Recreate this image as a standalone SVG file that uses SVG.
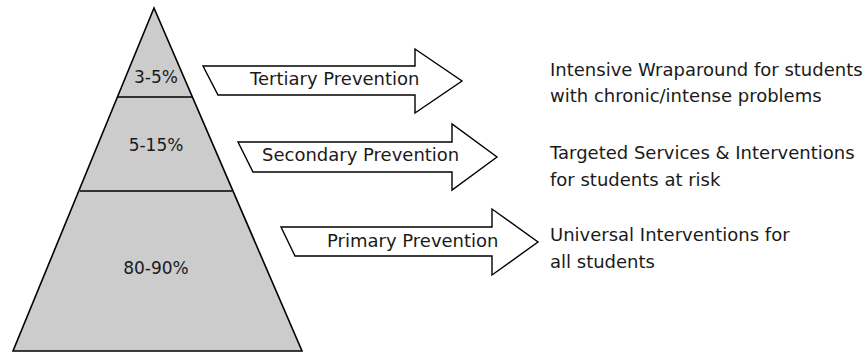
<svg xmlns="http://www.w3.org/2000/svg" width="868" height="353" viewBox="0 0 868 353">
  <style>
    .tier { fill: #cccccc; stroke: #000; stroke-width: 1.6; stroke-linejoin: miter; }
    .divider { stroke: #000; stroke-width: 1.6; fill: none; }
    .arrow { fill: #fff; stroke: #000; stroke-width: 1.4; stroke-linejoin: miter; }
    text { font-family: "DejaVu Sans", "Liberation Sans", sans-serif; fill: #1a1a1a; }
    .pct { font-size: 17px; text-anchor: middle; }
    .lbl { font-size: 18px; }
    .desc { font-size: 18px; }
  </style>

  <!-- pyramid of tiers -->
  <g id="pyramid">
    <polygon class="tier" points="154,8 13,351 302,351"/>
    <line class="divider" x1="117" y1="97" x2="192" y2="97"/>
    <line class="divider" x1="80" y1="191" x2="232" y2="191"/>
  </g>
  <g id="tier-top">
    <text class="pct" x="156" y="83">3-5%</text>
  </g>
  <g id="tier-middle">
    <text class="pct" x="156" y="151">5-15%</text>
  </g>
  <g id="tier-base">
    <text class="pct" x="156" y="274">80-90%</text>
  </g>

  <!-- block arrows pointing to the descriptions -->
  <g id="connectors">
    <g id="arrow-tertiary">
      <polygon class="arrow" points="203,66 415,66 415,49 462,81 415,113 415,95 218,95"/>
      <text class="lbl" x="250" y="85">Tertiary Prevention</text>
    </g>
    <g id="arrow-secondary">
      <polygon class="arrow" points="238,142 452,142 452,124 497,157 452,190 452,172 253,172"/>
      <text class="lbl" x="262" y="161">Secondary Prevention</text>
    </g>
    <g id="arrow-primary">
      <polygon class="arrow" points="281,227 492,227 492,209 538,242 492,275 492,256 295,256"/>
      <text class="lbl" x="327" y="247">Primary Prevention</text>
    </g>
  </g>

  <!-- descriptions -->
  <g id="desc-tertiary">
    <text class="desc" x="550" y="76">Intensive Wraparound for students</text>
    <text class="desc" x="550" y="102">with chronic/intense problems</text>
  </g>
  <g id="desc-secondary">
    <text class="desc" x="550" y="159">Targeted Services &amp; Interventions</text>
    <text class="desc" x="550" y="186">for students at risk</text>
  </g>
  <g id="desc-primary">
    <text class="desc" x="550" y="241">Universal Interventions for</text>
    <text class="desc" x="550" y="268">all students</text>
  </g>
</svg>
